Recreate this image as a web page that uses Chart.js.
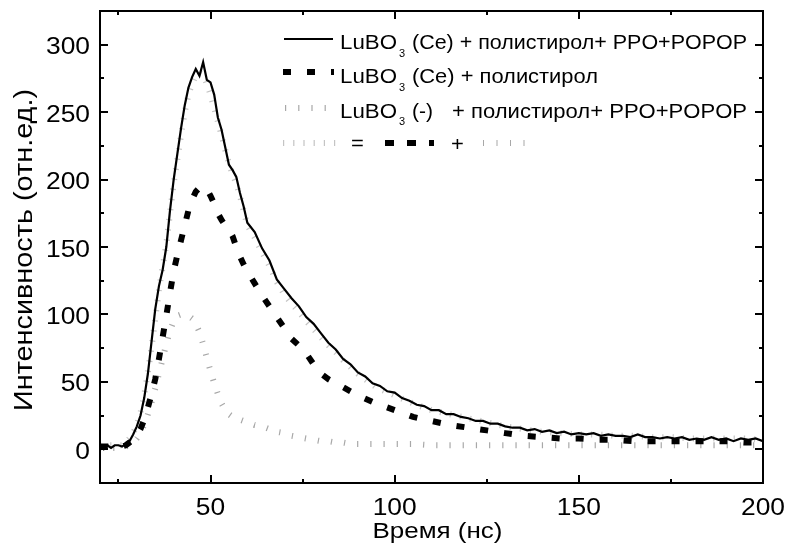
<!DOCTYPE html>
<html>
<head>
<meta charset="utf-8">
<script src="https://cdn.jsdelivr.net/npm/chart.js@4.4.1/dist/chart.umd.min.js"></script>
<style>
  html, body { margin: 0; padding: 0; background: #fff; }
</style>
</head>
<body>
<canvas id="myChart" width="786" height="544"></canvas>
<script>
// sampling times (ns) for the measured scintillator curve
const solidTimes = [
  20, 21, 22, 23, 24, 25, 26, 27, 28, 29, 30, 31, 32, 33, 34, 35, 36, 37, 38, 39,
  40, 41, 42, 43, 44, 45, 46, 47, 48, 49, 50, 51, 52, 53, 54, 55, 56, 57, 58, 59, 60,
  62, 64, 66, 68, 70, 72, 74, 76, 78, 80, 82, 84, 86, 88, 90, 92, 94, 96, 98, 100,
  102, 104, 106, 108, 110, 112, 114, 116, 118, 120, 122, 124, 126, 128, 130, 132, 134, 136, 138, 140,
  142, 144, 146, 148, 150, 152, 154, 156, 158, 160, 162, 164, 166, 168, 170, 172, 174, 176, 178, 180,
  182, 184, 186, 188, 190, 192, 194, 196, 198, 200
];
// LuBO3 (Ce) + polystyrene + PPO + POPOP
const ceFull = [
  2, 0, 3, 1, 3, 3, 2, 4, 6, 11, 17, 25, 38, 56, 80, 104, 121, 133, 150, 177,
  200, 219, 238, 255, 268, 276, 282, 277, 287, 274, 272, 263, 246, 237, 224, 211, 207, 202, 190, 180, 168,
  161, 149, 140, 126, 119, 112, 106, 98, 93, 86, 79, 74, 67, 63, 57, 54, 49, 47, 43, 42,
  38, 36, 33, 32, 29, 29, 26, 26, 24, 23, 21, 21, 19, 19, 17, 16, 16, 14, 15, 13,
  14, 12, 13, 11, 12, 11, 12, 10, 11, 10, 10, 9, 11, 9, 9, 8, 9, 8, 9, 7,
  8, 7, 9, 7, 8, 6, 8, 7, 8, 6
];

// sampling times (ns) for the smoother curves
const smoothTimes = [
  20, 22, 24, 26, 27, 28, 29, 30, 31, 32, 33, 34, 35, 36, 37, 38, 39, 40, 41, 42,
  43, 44, 45, 46, 47, 48, 49, 50, 51, 52, 53, 54, 55, 56, 57, 58, 59, 60,
  62, 64, 66, 68, 70, 72, 74, 76, 78, 80, 82, 84, 86, 88, 90,
  95, 100, 105, 110, 115, 120, 125, 130, 135, 140, 145, 150, 155, 160, 165, 170, 175, 180, 185, 190, 195, 200
];
// LuBO3 (Ce) + polystyrene
const ceOnly = [
  2, 2, 1, 2, 3, 5, 7, 10, 15, 22, 31, 41, 52, 67, 83, 99, 116, 132, 144, 155,
  166, 177, 185, 191, 194, 195, 193, 188, 182, 175, 170, 166, 163, 158, 150, 143, 137, 132,
  123, 114, 106, 98, 90, 82, 77, 71, 63, 56, 52, 49, 46, 43, 40,
  34, 29, 24, 21, 18, 16, 14, 12, 10, 9, 8, 8, 7, 7, 6, 6, 6, 6, 6, 6, 5, 5
];
// LuBO3 (-) + polystyrene + PPO + POPOP
const undoped = [
  1, 1, 1, 1, 2, 3, 5, 8, 12, 18, 26, 35, 45, 56, 67, 78, 88, 95, 99, 100,
  100, 99, 97, 93, 87, 78, 68, 58, 49, 41, 34, 29, 26, 24, 23, 22, 21, 20,
  18, 17, 15, 13, 12, 10, 9, 8, 7, 6, 6, 5, 5, 4, 4,
  4, 4, 4, 3, 3, 3, 3, 3, 3, 3, 3, 3, 3, 3, 3, 3, 3, 3, 3, 3, 3, 3
];
// sum of the two curves above
const summed = [
  3, 3, 3, 3, 5, 8, 12, 18, 27, 40, 57, 76, 97, 118, 135, 152, 175, 197, 215, 233,
  250, 263, 271, 277, 279, 278, 271, 263, 253, 243, 233, 222, 212, 204, 197, 188, 177, 166,
  157, 146, 136, 124, 115, 108, 102, 95, 89, 83, 77, 72, 66, 61, 56,
  46, 40, 34, 29, 26, 23, 20, 17, 15, 13, 12, 11, 11, 10, 10, 9, 9, 8, 8, 8, 8, 7
];

const xTickLabels = [50, 100, 150, 200];
const yTickLabels = [0, 50, 100, 150, 200, 250, 300];

const FONT = '"Liberation Sans", Arial, sans-serif';

function pairs(times, values) {
  return times.map((t, i) => ({ x: t, y: values[i] }));
}

// text drawn with a horizontal stretch factor
function drawText(ctx, text, x, y, size, sx, align) {
  ctx.save();
  ctx.font = size + 'px ' + FONT;
  ctx.translate(x, y);
  ctx.scale(sx, 1);
  ctx.textAlign = align || 'left';
  ctx.textBaseline = 'alphabetic';
  ctx.fillStyle = '#000';
  ctx.fillText(text, 0, 0);
  ctx.restore();
}

// same, but stretched to a given width
function fitText(ctx, text, x, y, size, width, align) {
  ctx.font = size + 'px ' + FONT;
  const w = ctx.measureText(text).width;
  drawText(ctx, text, x, y, size, width / w, align);
}

function sample(ctx, ds, x1, x2, y, dash) {
  ctx.save();
  ctx.strokeStyle = ds.borderColor;
  ctx.lineWidth = ds.borderWidth;
  ctx.lineCap = 'butt';
  ctx.setLineDash(dash || ds.borderDash || []);
  ctx.beginPath();
  ctx.moveTo(x1, y);
  ctx.lineTo(x2, y);
  ctx.stroke();
  ctx.restore();
}

const decor = {
  id: 'decor',
  afterDraw(chart) {
    const ctx = chart.ctx;
    const a = chart.chartArea;
    const xs = chart.scales.x, ys = chart.scales.y;
    const sets = chart.data.datasets;

    ctx.save();
    ctx.strokeStyle = '#000';
    ctx.lineWidth = 2;
    ctx.strokeRect(a.left, a.top, a.right - a.left, a.bottom - a.top);

    // ticks pointing inward on every side
    ctx.beginPath();
    xs.ticks.forEach(t => {
      const px = Math.round(xs.getPixelForValue(t.value));
      const len = t.label ? 8 : 4;
      ctx.moveTo(px, a.bottom); ctx.lineTo(px, a.bottom - len);
      ctx.moveTo(px, a.top); ctx.lineTo(px, a.top + len);
    });
    ys.ticks.forEach(t => {
      const py = Math.round(ys.getPixelForValue(t.value));
      const len = t.label ? 8 : 4;
      ctx.moveTo(a.left, py); ctx.lineTo(a.left + len, py);
      ctx.moveTo(a.right, py); ctx.lineTo(a.right - len, py);
    });
    ctx.stroke();
    ctx.restore();

    // tick labels
    xs.ticks.forEach(t => {
      if (t.label) drawText(ctx, t.label, xs.getPixelForValue(t.value), 515, 24, 1.1, 'center');
    });
    ys.ticks.forEach(t => {
      if (t.label) drawText(ctx, t.label, 90, ys.getPixelForValue(t.value) + 9.5, 24, 1.1, 'right');
    });

    // axis titles
    fitText(ctx, 'Время (нс)', 437.5, 538, 22, 130, 'center');
    ctx.save();
    ctx.translate(32, 250);
    ctx.rotate(-Math.PI / 2);
    fitText(ctx, 'Интенсивность (отн.ед.)', 0, 0, 25, 322, 'center');
    ctx.restore();

    // legend
    const [dsFull, dsCe, dsUndoped, dsSum] = sets;
    sample(ctx, dsFull, 284, 333, 39);
    sample(ctx, dsCe, 283, 334, 72);
    sample(ctx, dsUndoped, 285, 326, 108);
    sample(ctx, dsSum, 283, 336, 143);
    sample(ctx, dsCe, 385, 434, 143, [9, 13]);
    sample(ctx, dsUndoped, 483, 526, 143, [1, 12.5]);

    const rows = [49, 83, 117.5];
    rows.forEach(base => {
      fitText(ctx, 'LuBO', 340, base, 20, 57);
      drawText(ctx, '3', 399, base + 7.5, 10, 1.1);
    });
    fitText(ctx, '(Ce) + полистирол+ PPO+POPOP', 412, rows[0], 20, 335);
    fitText(ctx, '(Ce) + полистирол', 412, rows[1], 20, 186);
    fitText(ctx, '(-)', 412, rows[2], 20, 21);
    fitText(ctx, '+ полистирол+ PPO+POPOP', 452, rows[2], 20, 295);
    drawText(ctx, '=', 357.5, 150, 20, 1.1, 'center');
    drawText(ctx, '+', 457.5, 150.5, 20, 1.1, 'center');
  }
};

const ctx = document.getElementById('myChart').getContext('2d');
const myChart = new Chart(ctx, {
  type: 'line',
  data: {
    datasets: [
      {
        label: 'LuBO3 (Ce) + полистирол+ PPO+POPOP',
        data: pairs(solidTimes, ceFull),
        borderColor: '#000',
        borderWidth: 2.2,
        borderDash: [],
      },
      {
        label: 'LuBO3 (Ce) + полистирол',
        data: pairs(smoothTimes, ceOnly),
        borderColor: '#000',
        borderWidth: 6,
        borderDash: [8, 16],
        borderCapStyle: 'butt',
      },
      {
        label: 'LuBO3 (-) + полистирол+ PPO+POPOP',
        data: pairs(smoothTimes, undoped),
        borderColor: '#a8a8a8',
        borderWidth: 6,
        borderDash: [1.2, 12],
        borderCapStyle: 'butt',
      },
      {
        label: 'сумма',
        data: pairs(smoothTimes, summed),
        borderColor: '#c4c4c4',
        borderWidth: 6,
        borderDash: [1.2, 9],
        borderCapStyle: 'butt',
      },
    ],
  },
  options: {
    responsive: false,
    animation: false,
    devicePixelRatio: 1,
    layout: { padding: { top: 11, right: 23, left: 0, bottom: 0 } },
    plugins: { legend: { display: false }, tooltip: { enabled: false } },
    elements: { point: { radius: 0 }, line: { tension: 0, fill: false } },
    scales: {
      x: {
        type: 'linear',
        min: 20,
        max: 200,
        grid: { display: false, drawTicks: false },
        border: { display: false },
        ticks: {
          display: false,
          stepSize: 25,
          includeBounds: false,
          autoSkip: false,
          callback: v => (xTickLabels.includes(v) ? String(v) : ''),
        },
        afterFit: s => { s.height = 61; },
      },
      y: {
        type: 'linear',
        min: -25,
        max: 325,
        grid: { display: false, drawTicks: false },
        border: { display: false },
        ticks: {
          display: false,
          stepSize: 25,
          includeBounds: false,
          autoSkip: false,
          callback: v => (yTickLabels.includes(v) ? String(v) : ''),
        },
        afterFit: s => { s.width = 100; },
      },
    },
  },
  plugins: [decor],
});
</script>
</body>
</html>
